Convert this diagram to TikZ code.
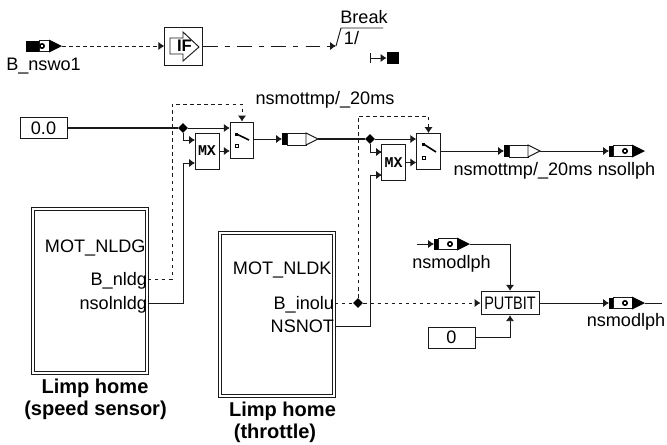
\documentclass[tikz,border=0pt]{standalone}
\usepackage{fontspec}
\setmainfont{Liberation Sans}
\setmonofont{Liberation Mono}
\usetikzlibrary{arrows.meta,shapes.geometric}
\definecolor{Linea}{HTML}{1A1A1A}

\begin{document}
\begin{tikzpicture}[
  x=0.02cm,y=-0.02cm,
  font=\fontsize{10.3}{12}\selectfont,
  line width=0.54pt,
  lbl/.style={inner sep=0pt,text height=7.4pt,text depth=0pt},
  portlbl/.style={lbl,anchor=east},
  titel/.style={inner sep=0pt,text height=8.2pt,text depth=0pt,font=\fontsize{11.4}{13}\selectfont\bfseries},
  arr/.style={-{Latex[length=3.4pt,width=4.8pt]},draw=Linea},
  lin/.style={draw=Linea},
  punkt/.style={dash pattern=on 2pt off 2pt},
  strichpunkt/.style={dash pattern=on 8.5pt off 4pt on 3pt off 4pt},
  knoten/.style={diamond,fill=black,inner sep=0pt,minimum size=0.2cm},
  wert/.style={draw=Linea,inner sep=0pt,minimum width=0.94cm,minimum height=0.42cm},
  mux/.style={draw=Linea,inner sep=0pt,minimum width=0.48cm,minimum height=0.72cm,
    font=\fontsize{8.5}{9}\selectfont\ttfamily\bfseries},
  schalter/.style={draw=Linea,inner sep=0pt,minimum width=0.47cm,minimum height=0.72cm},
  modul/.style={draw=Linea,inner sep=0pt,line width=0.7pt,double,double distance=1pt,minimum width=2.28cm},
  pics/tagvoll/.style={code={
    \fill[black] (0,-5.5) rectangle (#1,5.5);
    \draw[Linea,fill=white] (#1,-5.5) rectangle (23,5.5);
    \fill[black] (23,-6.5) -- (36,0) -- (23,6.5) -- cycle;
    \draw[black,line width=0.9pt] (16,0) circle (2.2);
    \coordinate (-w) at (0,0);
    \coordinate (-e) at (36,0);
  }},
  pics/tagleer/.style={code={
    \fill[black] (0,-6) rectangle (5,6);
    \draw[Linea,fill=white] (5,-6) rectangle (24,6);
    \draw[Linea,fill=white] (24,-6) -- (36,0) -- (24,6) -- cycle;
    \coordinate (-w) at (0,0);
    \coordinate (-e) at (36,0);
  }},
  pics/schalterbild/.style={code={
    \fill[black] (5,#1-1.5) rectangle (8,#1+1.5);
    \draw[black,line width=0.9pt] (6.5,#1) -- (19,18);
    \draw[black] (5,22) rectangle (8,25);
  }}
]
  \useasboundingbox (0,0) rectangle (667,444);

  % Top row: switch signal into the IF block and the break.
  \pic (nswo) at (26,46) {tagvoll=13};
  \node[lbl] (nswolbl) at (43.5,64) {B\_nswo1};
  \node[draw=Linea,inner sep=0pt,minimum width=0.75cm,minimum height=0.76cm] (ifblock) at (183.5,46) {};
  \draw[Linea] (170,38) -- (183,38) -- (183,32) -- (199,47) -- (183,61) -- (183,54) -- (170,54) -- cycle;
  \node[inner sep=0pt,font=\fontsize{9.5}{10}\selectfont\bfseries] (iftext) at (184.5,46) {IF};
  \coordinate (breakin) at (336,46);
  \draw[arr,punkt] (nswo-e) -- (ifblock.west);
  \draw[arr,strichpunkt] (ifblock.east) -- (breakin);
  \draw[Linea] (breakin) -- (341,28) -- (383,28);
  \node[lbl] (breaklbl) at (364,17) {Break};
  \node[lbl] (breaknum) at (351.5,38) {1/};
  \node[fill=black,inner sep=0pt,minimum size=0.24cm] (stopbox) at (393,58) {};
  \coordinate (stopstart) at (370,58);
  \draw[arr] (stopstart) -- (stopbox.west);
  \draw[Linea] (370,53) -- (370,63);

  % Limp home blocks.
  \node[modul,minimum height=3.28cm] (limpone) at (90,291) {};
  \node[portlbl,anchor=east] (motnldg) at (146,246) {MOT\_NLDG};
  \node[portlbl] (bnldg) at (147.5,279) {B\_nldg};
  \node[portlbl] (nsolnldg) at (147.5,303) {nsolnldg};
  \node[titel] (titleone) at (95,386) {Limp home};
  \node[titel] (titleonb) at (95.5,408.5) {(speed sensor)};
  \node[modul,minimum height=3.26cm] (limptwo) at (277,314.5) {};
  \node[portlbl] (motnldk) at (332,268) {MOT\_NLDK};
  \node[portlbl] (binolu) at (334.5,303) {B\_inolu};
  \node[portlbl] (nsnot) at (334.5,326) {NSNOT};
  \node[titel] (titletwo) at (282.5,409.5) {Limp home};
  \node[titel] (titletwb) at (275,431.5) {(throttle)};

  % First stage: constant, multiplexer and switch.
  \node[wert] (zero) at (43.5,128) {0.0};
  \node[knoten] (jone) at (183,128) {};
  \node[mux] (mxone) at (207,151) {MX};
  \node[schalter] (swone) at (242,140) {};
  \pic at (230,122) {schalterbild=12};
  \coordinate (mxonea) at (195,140);
  \coordinate (mxoneb) at (195,163);
  \coordinate (dashone) at (172,104);
  \draw[lin,line width=1.2pt] (zero.east) -- (jone);
  \draw[arr] (jone) -- (swone.west |- jone);
  \draw[arr] (jone) |- (mxonea);
  \draw[arr] (nsolnldg.east) -| (jone.south |- mxoneb) -- (mxoneb);
  \draw[arr] (mxone.east) -- (mxone.east -| swone.west);
  \draw[arr,punkt] (bnldg.east) -| (dashone) -| (swone.north);
  \node[lbl] (tmplbl) at (325,97.5) {nsmottmp/\_20ms};
  \pic (tmpone) at (282,139) {tagleer};
  \draw[arr] (swone.east |- tmpone-w) -- (tmpone-w);

  % Second stage.
  \node[knoten] (jtwo) at (370,139) {};
  \node[mux] (mxtwo) at (393.5,162.5) {MX};
  \node[schalter] (swtwo) at (428.5,151.5) {};
  \pic at (417,134) {schalterbild=10};
  \coordinate (mxtwoa) at (382,152);
  \coordinate (mxtwob) at (382,175);
  \coordinate (dashtwo) at (358,116);
  \draw[lin,line width=0.8pt] (tmpone-e) -- (jtwo);
  \draw[arr] (jtwo) -- (swtwo.west |- jtwo);
  \draw[arr] (jtwo) |- (mxtwoa);
  \draw[arr] (nsnot.east) -| (jtwo.south |- mxtwob) -- (mxtwob);
  \draw[arr] (mxtwo.east) -- (mxtwo.east -| swtwo.west);
  \pic (tmptwo) at (504,151) {tagleer};
  \pic (nsoll) at (609,151) {tagvoll=4};
  \draw[arr] (swtwo.east |- tmptwo-w) -- (tmptwo-w);
  \draw[arr] (tmptwo-e) -- (nsoll-w);
  \node[lbl] (tmpbot) at (523,169) {nsmottmp/\_20ms};
  \node[lbl] (nsolllbl) at (626.5,169) {nsollph};

  % Bit output.
  \node[draw=Linea,inner sep=0pt,minimum width=1.16cm,minimum height=0.47cm] (putbit) at (510,303)
    {\scalebox{0.8}[1]{PUTBIT}};
  \node[knoten] (jthree) at (358,303) {};
  \node[wert] (nullwert) at (451.5,337.5) {0};
  \pic (modin) at (434,244) {tagvoll=4};
  \pic (modout) at (609,303) {tagvoll=4};
  \coordinate (modstart) at (417,244);
  \coordinate (modend) at (662,303);
  \node[lbl] (modinlbl) at (451.5,262) {nsmodlph};
  \node[lbl] (modoutlbl) at (626,320) {nsmodlph};
  \draw[arr] (modstart) -- (modin-w);
  \draw[arr] (modin-e) -| (putbit.north);
  \draw[arr] (nullwert.east) -| (putbit.south);
  \draw[lin,punkt] (binolu.east) -- (jthree);
  \draw[arr,punkt] (jthree) -- (putbit.west);
  \draw[arr,punkt] (jthree) |- (dashtwo) -| (swtwo.north);
  \draw[arr] (putbit.east) -- (modout-w);
  \draw[lin] (modout-e) -- (modend);
\end{tikzpicture}
\end{document}
